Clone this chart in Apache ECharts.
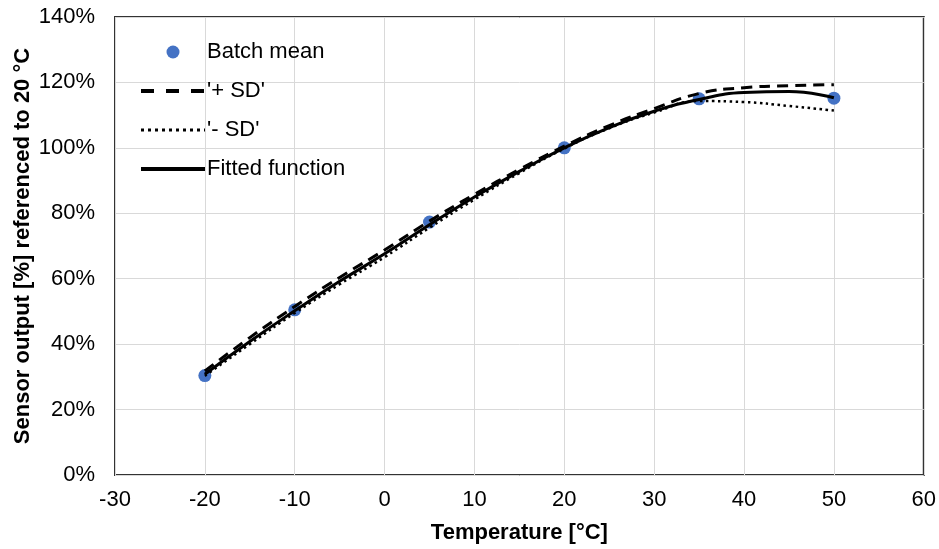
<!DOCTYPE html>
<html>
<head>
<meta charset="utf-8">
<script src="https://cdn.jsdelivr.net/npm/echarts@6/dist/echarts.min.js"></script>
<style>html,body{margin:0;padding:0;background:#fff}#c{width:939px;height:549px}</style>
</head>
<body>
<div id="c"></div>
<script>
var meanX = [-20, -10, 5, 20, 35, 50];
var meanY = [30.4, 50.5, 77.3, 100, 115, 115.2];
var curveX = [-20, -15, -10, -5, 0, 5, 10, 15, 20, 25, 30, 35, 40, 45, 50];
var plusSD = [31.8, 42.0, 51.5, 60.4, 68.8, 77.6, 85.8, 93.4, 100.5, 106.8, 112.0, 116.6, 118.4, 119.0, 119.3];
var minusSD = [30.3, 40.0, 49.5, 58.3, 66.6, 75.6, 84.2, 92.3, 99.8, 106.0, 110.8, 114.3, 114.0, 112.8, 111.4];
var fitted = [30.8, 40.8, 50.2, 59.2, 67.6, 76.5, 85.0, 92.8, 100.0, 106.2, 111.2, 114.8, 116.9, 117.2, 115.3];
var xTicks = [-30, 60, 10];
var yTicks = [0, 140, 20];

function pairs(xs, ys) { return xs.map(function (x, i) { return [x, ys[i]]; }); }

var font = 'Liberation Sans, Arial, sans-serif';
var chart = echarts.init(document.getElementById('c'));
chart.setOption({
  animation: false,
  grid: { left: 115, right: 14, top: 17, bottom: 74, show: true, borderColor: '#333', borderWidth: 2, backgroundColor: 'transparent' },
  legend: {
    orient: 'vertical', left: 134, top: 36,
    itemWidth: 64, itemHeight: 13, itemGap: 17,
    textStyle: { fontFamily: font, fontSize: 22, lineHeight: 22, color: '#000', padding: [0, 0, 0, -3] },
    data: [
      { name: 'Batch mean' },
      { name: "'+ SD'", itemStyle: { opacity: 0 }, lineStyle: { width: 4, type: [13, 12] } },
      { name: "'- SD'", itemStyle: { opacity: 0 }, lineStyle: { width: 3, type: [3, 4] } },
      { name: 'Fitted function', itemStyle: { opacity: 0 }, lineStyle: { width: 4 } }
    ]
  },
  xAxis: {
    type: 'value', min: xTicks[0], max: xTicks[1], interval: xTicks[2],
    name: 'Temperature [°C]', nameLocation: 'middle', nameGap: 47,
    nameTextStyle: { fontFamily: font, fontSize: 22, fontWeight: 'bold', color: '#000' },
    axisLine: { show: false }, axisTick: { show: false },
    axisLabel: { fontFamily: font, fontSize: 22, color: '#000', margin: 14 },
    splitLine: { show: true, lineStyle: { color: '#d9d9d9', width: 1 } }
  },
  yAxis: {
    type: 'value', min: yTicks[0], max: yTicks[1], interval: yTicks[2],
    name: 'Sensor output [%] referenced to 20 °C', nameLocation: 'middle', nameGap: 81, nameMoveOverlap: false,
    nameTextStyle: { fontFamily: font, fontSize: 22, fontWeight: 'bold', color: '#000' },
    axisLine: { show: false }, axisTick: { show: false },
    axisLabel: { fontFamily: font, fontSize: 22, color: '#000', margin: 20, formatter: '{value}%' },
    splitLine: { show: true, lineStyle: { color: '#d9d9d9', width: 1 } }
  },
  series: [
    { name: 'Batch mean', type: 'scatter', data: pairs(meanX, meanY), symbol: 'circle', symbolSize: 13, itemStyle: { color: '#4472C4', opacity: 1 }, z: 2 },
    { name: "'+ SD'", type: 'line', data: pairs(curveX, plusSD), smooth: true, showSymbol: false, symbol: 'none', lineStyle: { color: '#000', width: 3, type: [11, 7] }, itemStyle: { color: '#000' }, z: 3 },
    { name: "'- SD'", type: 'line', data: pairs(curveX, minusSD), smooth: true, showSymbol: false, symbol: 'none', lineStyle: { color: '#000', width: 2.5, type: [2.5, 3.5] }, itemStyle: { color: '#000' }, z: 3 },
    { name: 'Fitted function', type: 'line', data: pairs(curveX, fitted), smooth: true, showSymbol: false, symbol: 'none', lineStyle: { color: '#000', width: 3 }, itemStyle: { color: '#000' }, z: 4 }
  ]
});
</script>
</body>
</html>
